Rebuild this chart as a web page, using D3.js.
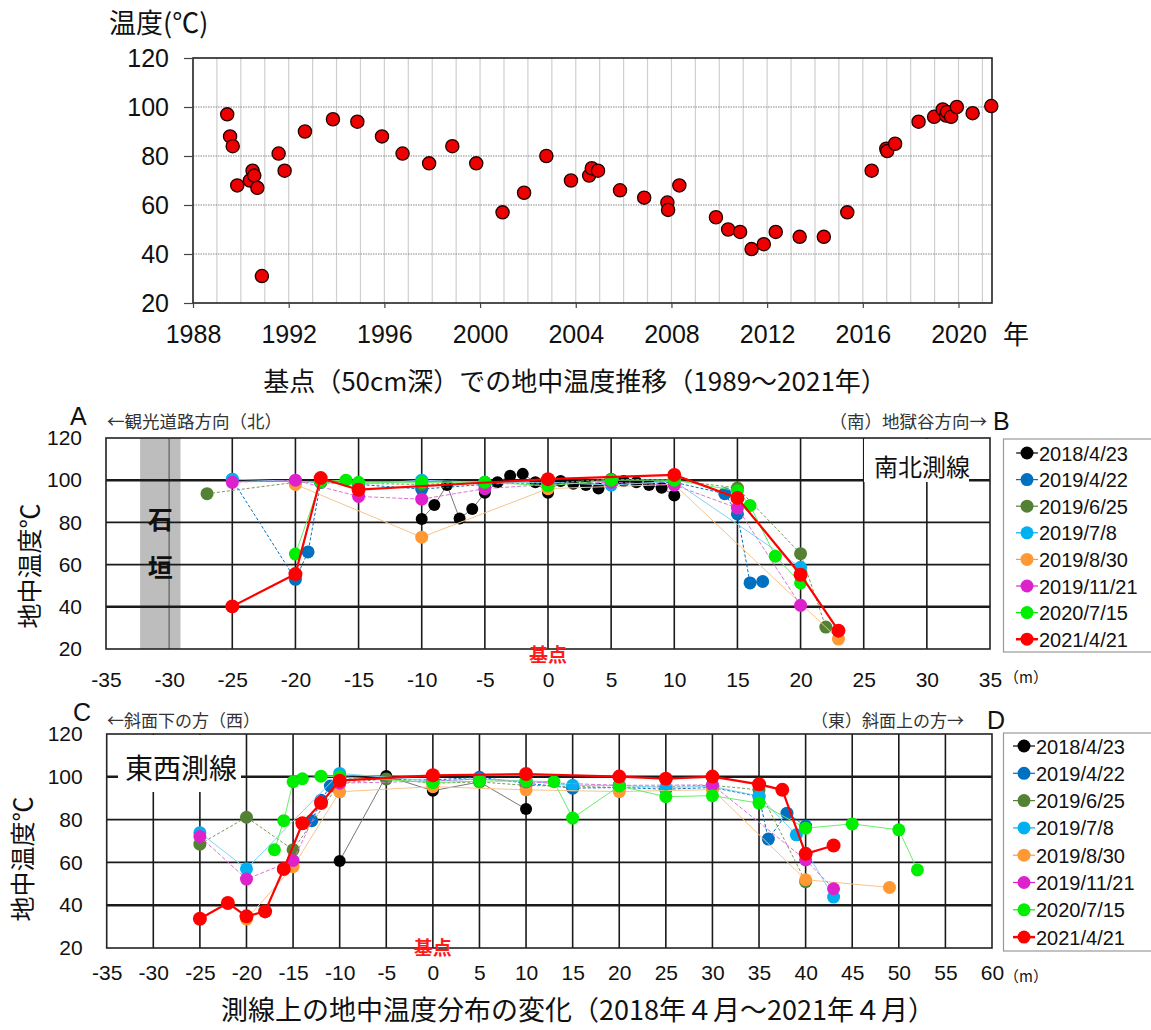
<!DOCTYPE html>
<html>
<head>
<meta charset="utf-8">
<script src="https://cdn.jsdelivr.net/npm/d3@7"></script>
<style>
  body { margin: 0; background: #fff; }
  svg { display: block; }
</style>
</head>
<body>
<svg id="chart" width="1151" height="1030"></svg>
<script>
// ---- top chart: ground temperature at the base point (50cm deep) ----
const trendYears = [
  1989.43, 1989.55, 1989.66, 1989.85, 1990.38, 1990.49, 1990.56, 1990.69, 1990.88,
  1991.58, 1991.83, 1992.68, 1993.85, 1994.87, 1995.9, 1996.76, 1997.87, 1998.84,
  1999.84, 2000.94, 2001.84, 2002.77, 2003.8, 2004.56, 2004.67, 2004.93, 2005.85,
  2006.86, 2007.83, 2007.86, 2008.33, 2009.86, 2010.37, 2010.87, 2011.35, 2011.86,
  2012.36, 2013.36, 2014.37, 2015.35, 2016.37, 2016.98, 2017.02, 2017.35, 2018.33,
  2018.98, 2019.34, 2019.48, 2019.52, 2019.69, 2019.93, 2020.59, 2021.37,
];
const trendTemps = [
  97, 88, 84, 68, 70, 74, 72, 67, 31,
  81, 74, 90, 95, 94, 88, 81, 77, 84,
  77, 57, 65, 80, 70, 72, 75, 74, 66,
  63, 61, 58, 68, 55, 50, 49, 42, 44,
  49, 47, 47, 57, 74, 83, 82, 85, 94,
  96, 99, 96.5, 98, 96, 100, 97.5, 100.4,
];
const trendYearTicks = [1988, 1992, 1996, 2000, 2004, 2008, 2012, 2016, 2020];
const tempTicks = [20, 40, 60, 80, 100, 120];

// ---- survey lines: series dates shared by both profiles ----
const seriesDates = ['2018/4/23', '2019/4/22', '2019/6/25', '2019/7/8', '2019/8/30', '2019/11/21', '2020/7/15', '2021/4/21'];

// north-south line [distance m, temperature]
const nsBlack = [[-10, 81.6], [-9, 88.2], [-8, 97.7], [-7, 81.8], [-6, 86.4], [-5, 94], [-4, 99], [-3, 102.1], [-2, 103], [-1, 99], [0, 94], [1, 99.6], [2, 98.3], [3, 97.7], [4, 96.1], [5, 99.5], [6, 99.6], [7, 99], [8, 97.7], [9, 96.4], [10, 92.8]];
const nsBlue = [[-25, 100.3], [-20, 53], [-19, 66], [-18, 99], [-15, 98], [-10, 95.8], [-5, 98], [0, 99], [5, 98], [10, 99], [14, 93.6], [15, 84], [16, 51.3], [17, 52]];
const nsOlive = [[-27, 93.6], [-20, 99], [-18, 99], [-15, 98.5], [-10, 98], [-5, 99], [0, 98.5], [5, 100.5], [10, 100], [15, 96.3], [20, 65.2], [22, 30.4]];
const nsLightBlue = [[-25, 100.5], [-20, 99.5], [-15, 98], [-10, 100], [-5, 99], [0, 99], [5, 97.7], [10, 99.5], [20, 58.7]];
const nsOrange = [[-20, 98], [-10, 73], [0, 96], [10, 98], [23, 24.7]];
const nsMagenta = [[-25, 99], [-20, 100], [-15, 92.3], [-10, 91], [-5, 96], [0, 98], [5, 99], [10, 97.7], [15, 86.8], [20, 40.7]];
const nsGreen = [[-20, 65], [-18, 99.5], [-16, 100], [-15, 99], [-10, 99], [-5, 99], [0, 97.4], [5, 100], [10, 100], [15, 95], [16, 88], [18, 64], [20, 51.3]];
const nsRed = [[-25, 40.2], [-20, 55.5], [-18, 101], [-15, 95.5], [0, 100.5], [10, 102.5], [15, 91.6], [20, 55.2], [23, 28.7]];
const nsTicks = [-35, -30, -25, -20, -15, -10, -5, 0, 5, 10, 15, 20, 25, 30, 35];
const stoneWall = [-32.3, -29.1];

// east-west line [distance m, temperature]
const ewBlack = [[-10, 60.7], [-5, 100.4], [0, 93.5], [5, 97.6], [10, 84.9]];
const ewBlue = [[-13, 79.5], [-12, 89], [-11, 95.7], [-10, 99], [0, 98.5], [5, 99.8], [10, 97], [15, 94.7], [20, 95], [25, 94.2], [30, 95], [35, 90.7], [36, 70.9], [38, 83], [40, 77]];
const ewOlive = [[-25, 68.5], [-20, 81.1], [-15, 65.9], [-10, 97], [-5, 99], [0, 97], [5, 97.6], [10, 96], [20, 95], [30, 96], [35, 93.9], [40, 51]];
const ewLightBlue = [[-25, 73.9], [-20, 57], [-10, 101.6], [0, 98], [5, 99], [10, 98], [15, 96], [20, 96], [25, 95], [30, 95.5], [35, 91], [39, 72.9], [43, 43.8]];
const ewOrange = [[-20, 33.5], [-15, 58], [-10, 93], [0, 95.4], [10, 93.9], [20, 93.1], [30, 94], [40, 51.9], [49, 48.3]];
const ewMagenta = [[-25, 72.1], [-20, 52.2], [-15, 60.9], [-12, 88], [-10, 97], [0, 98], [5, 99], [10, 97.6], [20, 96], [30, 96.2], [40, 61.2], [43, 47.7]];
const ewGreen = [[-17, 65.9], [-16, 79.5], [-15, 97.7], [-14, 99.1], [-12, 100.3], [-10, 100], [0, 97.3], [5, 98], [10, 98], [13, 97.7], [15, 80.7], [20, 95.7], [25, 90.7], [30, 91.2], [35, 87.7], [40, 76], [45, 78], [50, 75.2], [52, 56.5]];
const ewRed = [[-25, 33.7], [-22, 41], [-20, 34.8], [-18, 37.1], [-16, 56.9], [-14, 78.3], [-12, 87.7], [-10, 98.2], [0, 100.7], [10, 101.3], [20, 100.1], [25, 99.1], [30, 100.1], [35, 96.5], [37.5, 93.9], [40, 64], [43, 67.9]];
const ewTicks = [-35, -30, -25, -20, -15, -10, -5, 0, 5, 10, 15, 20, 25, 30, 35, 40, 45, 50, 55, 60];

// styles per series (same order as seriesDates)
const seriesStyles = [
  { dot: '#000000', line: '#777777', width: 1, dash: null, r: 6 },
  { dot: '#0070c0', line: '#0070c0', width: 1, dash: '3,2', r: 6.5 },
  { dot: '#548235', line: '#7a9a5a', width: 1, dash: '3,2', r: 6.5 },
  { dot: '#00b0f0', line: '#7fd3f5', width: 1, dash: null, r: 6.5 },
  { dot: '#ff9933', line: '#f8c48c', width: 1, dash: null, r: 6.5 },
  { dot: '#dd22cc', line: '#e070d8', width: 1, dash: '4,2', r: 6.5 },
  { dot: '#00ee00', line: '#66ee66', width: 1, dash: null, r: 6.5 },
  { dot: '#ff0000', line: '#ff0000', width: 2.2, dash: null, r: 7 },
];

const JP = '"Noto Sans CJK JP", sans-serif';
const NUM = '"Liberation Sans", Arial, sans-serif';
const svg = d3.select('#chart');

function text(x, y, str, opts = {}) {
  return svg.append('text')
    .attr('x', x)
    .attr('y', y)
    .attr('font-family', opts.family || JP)
    .attr('font-size', opts.size || 16)
    .attr('font-weight', opts.weight || 'normal')
    .attr('fill', opts.fill || '#111')
    .attr('text-anchor', opts.anchor || 'start')
    .text(str);
}

function drawTrend() {
  const box = { left: 193, right: 992, top: 58, bottom: 303 };
  const x = d3.scaleLinear().domain([1988, 2021.4]).range([box.left, box.right]);
  const y = d3.scaleLinear().domain([20, 120]).range([box.bottom, box.top]);
  const g = svg.append('g');

  // yearly vertical grid
  g.selectAll('.vgrid')
    .data(d3.range(1989, 2022))
    .join('line')
    .attr('x1', (d) => x(d)).attr('x2', (d) => x(d))
    .attr('y1', box.top).attr('y2', box.bottom)
    .attr('stroke', '#cfcfcf')
    .attr('stroke-width', 1.2);

  // dotted horizontal grid
  g.selectAll('.hgrid')
    .data([40, 60, 80, 100])
    .join('line')
    .attr('x1', box.left).attr('x2', box.right)
    .attr('y1', (d) => y(d)).attr('y2', (d) => y(d))
    .attr('stroke', '#888')
    .attr('stroke-width', 1.2)
    .attr('stroke-dasharray', '1.5,1');

  g.append('rect')
    .attr('x', box.left).attr('y', box.top)
    .attr('width', box.right - box.left).attr('height', box.bottom - box.top)
    .attr('fill', 'none').attr('stroke', '#222').attr('stroke-width', 1.6);

  const yAxis = g.append('g')
    .attr('transform', `translate(${box.left},0)`)
    .call(d3.axisLeft(y).tickValues(tempTicks).tickSize(9).tickPadding(15));
  const xAxis = g.append('g')
    .attr('transform', `translate(0,${box.bottom})`)
    .call(d3.axisBottom(x).tickValues(trendYearTicks).tickSize(5).tickPadding(17)
      .tickFormat(d3.format('d')));
  [xAxis, yAxis].forEach((a) => {
    a.select('.domain').remove();
    a.selectAll('line').attr('stroke', '#444').attr('stroke-width', 1.2);
    a.selectAll('text')
      .attr('font-family', NUM)
      .attr('font-size', 25)
      .attr('fill', '#111');
  });

  g.selectAll('.pt')
    .data(trendYears.map((yr, i) => [yr, trendTemps[i]]))
    .join('circle')
    .attr('cx', (d) => x(d[0]))
    .attr('cy', (d) => y(d[1]))
    .attr('r', 6.6)
    .attr('fill', '#ee0000')
    .attr('stroke', '#220000')
    .attr('stroke-width', 1.3);

  text(109, 33, '温度(℃)', { size: 27 });
  text(1003, 344, '年', { size: 26 });
  text(575, 391, '基点（50cm深）での地中温度推移（1989～2021年）', { size: 26, anchor: 'middle' });
}

function drawProfile(cfg) {
  const { box } = cfg;
  const x = d3.scaleLinear().domain([cfg.ticks[0], cfg.ticks[cfg.ticks.length - 1]]).range([box.left, box.right]);
  const y = d3.scaleLinear().domain([20, 120]).range([box.bottom, box.top]);
  const g = svg.append('g');

  if (cfg.wall) {
    g.append('rect')
      .attr('x', x(cfg.wall[0])).attr('y', box.top)
      .attr('width', x(cfg.wall[1]) - x(cfg.wall[0]))
      .attr('height', box.bottom - box.top)
      .attr('fill', '#bdbdbd');
  }

  // grid
  g.selectAll('.vgrid')
    .data(cfg.ticks.slice(1, -1))
    .join('line')
    .attr('x1', (d) => x(d)).attr('x2', (d) => x(d))
    .attr('y1', box.top).attr('y2', box.bottom)
    .attr('stroke', (d) => (cfg.wall && d > cfg.wall[0] && d < cfg.wall[1] ? '#777' : '#1a1a1a'))
    .attr('stroke-width', 1.6);
  g.selectAll('.hgrid')
    .data([40, 60, 80, 100])
    .join('line')
    .attr('x1', box.left).attr('x2', box.right)
    .attr('y1', (d) => y(d)).attr('y2', (d) => y(d))
    .attr('stroke', '#1a1a1a')
    .attr('stroke-width', (d) => (d === 100 || d === 40 ? 2.6 : 1.8));
  g.append('rect')
    .attr('x', box.left).attr('y', box.top)
    .attr('width', box.right - box.left).attr('height', box.bottom - box.top)
    .attr('fill', 'none').attr('stroke', '#222').attr('stroke-width', 1.6);

  // label box that hides the grid
  const lb = cfg.lineLabel;
  g.append('rect')
    .attr('x', lb.x0).attr('y', box.top + 1)
    .attr('width', lb.x1 - lb.x0).attr('height', lb.y1 - box.top - 1)
    .attr('fill', '#fff');

  const yAxis = g.append('g')
    .attr('transform', `translate(${box.left},0)`)
    .call(d3.axisLeft(y).tickValues(tempTicks).tickSize(0).tickPadding(24));
  const xAxis = g.append('g')
    .attr('transform', `translate(0,${box.bottom})`)
    .call(d3.axisBottom(x).tickValues(cfg.ticks).tickSize(0).tickPadding(cfg.xPad)
      .tickFormat((d) => String(d)));
  [xAxis, yAxis].forEach((a) => {
    a.select('.domain').remove();
    a.selectAll('text')
      .attr('font-family', NUM)
      .attr('font-size', 21)
      .attr('fill', '#111');
  });

  const line = d3.line().x((d) => x(d[0])).y((d) => y(d[1]));
  cfg.series.forEach((data, i) => {
    const st = seriesStyles[i];
    const sg = g.append('g');
    sg.append('path')
      .datum(data)
      .attr('d', line)
      .attr('fill', 'none')
      .attr('stroke', st.line)
      .attr('stroke-width', st.width)
      .attr('stroke-dasharray', st.dash);
    sg.selectAll('circle')
      .data(data)
      .join('circle')
      .attr('cx', (d) => x(d[0]))
      .attr('cy', (d) => y(d[1]))
      .attr('r', st.r)
      .attr('fill', st.dot);
  });

  // legend
  const lg = svg.append('g');
  lg.append('rect')
    .attr('x', 1003.5).attr('y', cfg.legend.top)
    .attr('width', 170).attr('height', cfg.legend.height)
    .attr('fill', '#fff').attr('stroke', '#999').attr('stroke-width', 1.2);
  seriesDates.forEach((date, i) => {
    const st = seriesStyles[i];
    const cy = cfg.legend.top + cfg.legend.first + i * cfg.legend.step;
    const mx = cfg.legend.mx;
    lg.append('line')
      .attr('x1', mx - 11).attr('x2', mx + 11)
      .attr('y1', cy).attr('y2', cy)
      .attr('stroke', st.dot).attr('stroke-width', i === 7 ? 2.5 : 1.2);
    lg.append('circle').attr('cx', mx).attr('cy', cy).attr('r', 6.5).attr('fill', st.dot);
    lg.append('text')
      .attr('x', mx + 12).attr('y', cy + 7.5)
      .attr('font-family', NUM).attr('font-size', 20).attr('fill', '#111')
      .text(date);
  });

  // texts
  text(cfg.letters[0].x, cfg.letters[0].y, cfg.letters[0].t, { family: NUM, size: 25 });
  text(cfg.letters[1].x, cfg.letters[1].y, cfg.letters[1].t, { family: NUM, size: 25 });
  text(107, cfg.dirY, cfg.dirLeft, { size: cfg.dirSize, fill: '#333' });
  text(cfg.dirRightX, cfg.dirY, cfg.dirRight, { size: cfg.dirSize, fill: '#333', anchor: 'end' });
  text(lb.tx, lb.ty, lb.t, { size: lb.size, anchor: 'middle' });
  text(x(0), cfg.baseY, '基点', { size: 19, weight: 'bold', fill: '#ff1a1a', anchor: 'middle' });
  text(1004, box.bottom + 34, '（m）', { size: 15 });
  svg.append('text')
    .attr('transform', `translate(${cfg.yLabelX},${cfg.yLabelY}) rotate(-90)`)
    .attr('font-family', JP).attr('font-size', 25).attr('fill', '#111')
    .attr('text-anchor', 'middle')
    .text('地中温度℃');
  if (cfg.wall) {
    const cx = (x(cfg.wall[0]) + x(cfg.wall[1])) / 2;
    text(cx, 529, '石', { size: 25, weight: 'bold', anchor: 'middle' });
    text(cx, 577, '垣', { size: 25, weight: 'bold', anchor: 'middle' });
  }
}

drawTrend();

drawProfile({
  box: { left: 106, right: 990, top: 438, bottom: 649 },
  ticks: nsTicks,
  xPad: 23,
  wall: stoneWall,
  series: [nsBlack, nsBlue, nsOlive, nsLightBlue, nsOrange, nsMagenta, nsGreen, nsRed],
  lineLabel: { x0: 864, x1: 969, y1: 482, t: '南北測線', tx: 922, ty: 476, size: 24 },
  legend: { top: 439, height: 213, first: 14, step: 26.6, mx: 1027 },
  letters: [{ x: 70, y: 425, t: 'A' }, { x: 993, y: 430, t: 'B' }],
  dirY: 428,
  dirSize: 17.5,
  dirLeft: '←観光道路方向（北）',
  dirRight: '（南）地獄谷方向→',
  dirRightX: 987,
  baseY: 662,
  yLabelX: 39,
  yLabelY: 566,
});

drawProfile({
  box: { left: 106.7, right: 992, top: 734, bottom: 948 },
  ticks: ewTicks,
  xPad: 17,
  wall: null,
  series: [ewBlack, ewBlue, ewOlive, ewLightBlue, ewOrange, ewMagenta, ewGreen, ewRed],
  lineLabel: { x0: 118, x1: 241, y1: 792, t: '東西測線', tx: 181, ty: 779, size: 28 },
  legend: { top: 733, height: 218, first: 13, step: 27.3, mx: 1024 },
  letters: [{ x: 73, y: 721, t: 'C' }, { x: 987, y: 729, t: 'D' }],
  dirY: 727,
  dirSize: 17,
  dirLeft: '←斜面下の方（西）',
  dirRight: '（東）斜面上の方→',
  dirRightX: 964,
  baseY: 955,
  yLabelX: 32,
  yLabelY: 859,
});

text(578, 1020, '測線上の地中温度分布の変化（2018年４月～2021年４月）', { size: 27, anchor: 'middle' });
</script>
</body>
</html>
